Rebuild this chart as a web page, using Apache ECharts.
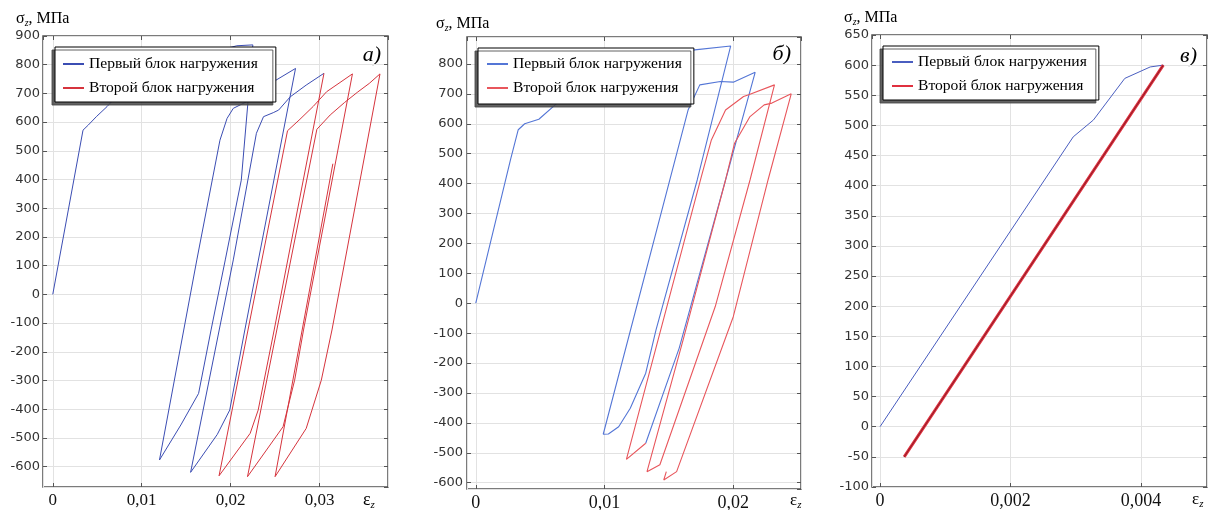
<!DOCTYPE html>
<html>
<head>
<meta charset="utf-8">
<script src="https://cdn.jsdelivr.net/npm/echarts@6.0.0/dist/echarts.min.js"></script>
<style>
  html, body { margin: 0; padding: 0; background: #ffffff; }
  #chart { width: 1210px; height: 510px; }
</style>
</head>
<body>
<div id="chart"></div>
<script>
// ---- Panel а): cyclic loading, strain εz vs stress σz (MPa) ----
const strainA1 = [0, 0.0034, 0.0040, 0.0049, 0.0061, 0.0066, 0.0100, 0.0130, 0.0160, 0.0190, 0.0207, 0.0225,
  0.0212, 0.0194, 0.0178, 0.0164, 0.0144, 0.0120,
  0.0162, 0.0188, 0.0196, 0.0203, 0.0218, 0.0245, 0.0273,
  0.0216, 0.0199, 0.0185, 0.0155,
  0.0203, 0.0229, 0.0237, 0.0248, 0.0254, 0.0267, 0.0285, 0.0305];
const stressA1 = [0, 572, 590, 619, 654, 671, 735, 785, 825, 852, 866, 869,
  398, 120, -124, -345, -455, -577,
  120, 537, 613, 648, 671, 735, 787,
  -124, -403, -488, -620,
  120, 561, 619, 633, 642, 688, 729, 770];
const strainA2 = [0.0305, 0.0249, 0.0231, 0.0222, 0.0187,
  0.0264, 0.0278, 0.0293, 0.0308, 0.0323, 0.0337,
  0.0282, 0.0272, 0.0259, 0.0219,
  0.0297, 0.0312, 0.0328, 0.0343, 0.0356, 0.0368,
  0.0314, 0.0302, 0.0285, 0.0250,
  0.0315];
const stressA2 = [770, -124, -403, -484, -632,
  570, 610, 655, 706, 738, 768,
  -124, -299, -461, -635,
  575, 625, 668, 705, 735, 768,
  -124, -299, -467, -635,
  455];

// ---- Panel б) ----
const strainB1 = [0, 0.0027, 0.0033, 0.0038, 0.0049, 0.0063, 0.0090, 0.0120, 0.0150, 0.0170, 0.0198,
  0.0172, 0.0140, 0.0132, 0.0120, 0.0111, 0.0103, 0.0099,
  0.0165, 0.0174, 0.0190, 0.0200, 0.0217,
  0.0194, 0.0158, 0.0132];
const stressB1 = [0, 480, 580, 600, 615, 668, 720, 780, 825, 847, 860,
  412, -89, -234, -351, -413, -437, -438,
  647, 730, 741, 739, 772,
  412, -150, -468];
const strainB2 = [0.0132, 0.0117, 0.0175, 0.0183, 0.0194, 0.0208, 0.0212, 0.0232,
  0.0213, 0.0186, 0.0143, 0.0133,
  0.0161, 0.0194, 0.0201, 0.0213, 0.0224, 0.0230, 0.0245,
  0.0227, 0.0200, 0.0156, 0.0146, 0.0148];
const stressB2 = [-468, -522, 420, 546, 646, 691, 697, 730,
  412, -11, -540, -563,
  -123, 412, 535, 624, 663, 669, 700,
  412, -45, -563, -591, -563];

// ---- Panel в) ----
const strainC1 = [0, 0.00296, 0.00327, 0.00375, 0.00414, 0.00434];
const stressC1 = [0, 481, 509, 578, 597, 600];
const strainC2 = [0.00434, 0.00037, 0.00434];
const stressC2 = [600, -50, 600];

// Axis ranges: [min, max, step]
const xRangeA = [-0.0011, 0.0377, 0.01];
const yRangeA = [-671, 900, 100];
const xRangeB = [-0.00068, 0.02526, 0.01];
const yRangeB = [-621, 890, 100];
const xRangeC = [-0.000123, 0.00501, 0.002];
const yRangeC = [-100, 650, 50];

const LEGEND_FIRST = 'Первый блок нагружения';
const LEGEND_SECOND = 'Второй блок нагружения';
const SERIF = '"Liberation Serif", "Times New Roman", serif';
const SANS = '"DejaVu Sans", Verdana, sans-serif';

function zip(xs, ys) { return xs.map((x, i) => [x, ys[i]]); }

function commaFmt(v) {
  if (Math.abs(v) < 1e-12) return '0';
  return String(parseFloat(v.toFixed(6))).replace('.', ',');
}

const xAxes = [], yAxes = [];
function addAxes(g, xr, yr, opts) {
  const tick = { show: true, inside: true, length: 4, lineStyle: { color: '#555', width: 1 } };
  const common = (r) => ({
    gridIndex: g, type: 'value', min: r[0], max: r[1],
    minInterval: r[2], maxInterval: r[2],
    splitNumber: Math.max(1, Math.round((r[1] - r[0]) / r[2])),
    axisLine: { show: false, onZero: false }, axisTick: tick
  });
  xAxes.push(Object.assign(common(xr), {
    position: 'bottom',
    splitLine: { show: true, lineStyle: { color: '#e2e2e2', width: 1 } },
    axisLabel: { showMinLabel: false, showMaxLabel: false, formatter: commaFmt,
      fontFamily: SERIF, fontSize: opts.xFont, color: '#111', margin: 5 }
  }));
  xAxes.push(Object.assign(common(xr), {
    position: 'top', splitLine: { show: false }, axisLabel: { show: false }
  }));
  yAxes.push(Object.assign(common(yr), {
    position: 'left',
    splitLine: { show: true, lineStyle: { color: '#e2e2e2', width: 1 } },
    axisLabel: { showMinLabel: opts.yMinLabel, showMaxLabel: opts.yMaxLabel,
      fontFamily: SANS, fontSize: 13, color: '#333', margin: opts.yMargin }
  }));
  yAxes.push(Object.assign(common(yr), {
    position: 'right', splitLine: { show: false }, axisLabel: { show: false }
  }));
}

addAxes(0, xRangeA, yRangeA, { xFont: 17, yMargin: 3, yMinLabel: false, yMaxLabel: true });
addAxes(1, xRangeB, yRangeB, { xFont: 18, yMargin: 4, yMinLabel: false, yMaxLabel: false });
addAxes(2, xRangeC, yRangeC, { xFont: 18, yMargin: 3, yMinLabel: true, yMaxLabel: true });

const gridBase = { show: true, borderColor: '#505050', borderWidth: 1.5, backgroundColor: 'transparent',
  containLabel: false, outerBoundsMode: 'none' };
const grids = [
  Object.assign({ left: 43, top: 36, width: 345, height: 451 }, gridBase),
  Object.assign({ left: 467, top: 37, width: 334, height: 452 }, gridBase),
  Object.assign({ left: 872, top: 35, width: 335, height: 452 }, gridBase)
];

function lineSeries(name, g, xs, ys, color, width) {
  return {
    name: name, type: 'line', xAxisIndex: g * 2, yAxisIndex: g * 2,
    data: zip(xs, ys), symbol: 'none', clip: true, silent: true,
    lineStyle: { color: color, width: width }, itemStyle: { color: color },
    emphasis: { disabled: true }
  };
}

const series = [
  lineSeries('first-a', 0, strainA1, stressA1, '#3b4db3', 1),
  lineSeries('second-a', 0, strainA2, stressA2, '#d6343d', 1),
  lineSeries('first-b', 1, strainB1, stressB1, '#5476d6', 1.1),
  lineSeries('second-b', 1, strainB2, stressB2, '#e8565c', 1.1),
  lineSeries('first-c', 2, strainC1, stressC1, '#4a5ec0', 1),
  lineSeries('second-c', 2, strainC2, stressC2, '#e0303f', 3),
  lineSeries('second-c-core', 2, strainC2, stressC2, 'rgba(90,20,25,0.75)', 0.5)
];

function legendFor(left, top, names, padding) {
  return {
    left: left, top: top, orient: 'vertical', data: names,
    selectedMode: false, itemWidth: 21, itemHeight: 1, itemGap: 8,
    itemStyle: { opacity: 0 },
    padding: padding, backgroundColor: '#ffffff', borderColor: '#000000', borderWidth: 1,
    shadowColor: 'rgba(70,70,70,0.85)', shadowBlur: 0, shadowOffsetX: -3, shadowOffsetY: 3,
    textStyle: { fontFamily: SERIF, fontSize: 15.6, color: '#000' },
    formatter: (n) => (n.indexOf('first') === 0 ? LEGEND_FIRST : LEGEND_SECOND)
  };
}

// Axis titles and panel letters
function axisTitle(x, y, main, sub, tail, size) {
  return {
    type: 'text', x: x, y: y, silent: true,
    style: {
      text: '{m|' + main + '}{s|' + sub + '}' + (tail ? '{m|' + tail + '}' : ''),
      verticalAlign: 'middle', align: 'left',
      rich: {
        m: { fontFamily: SERIF, fontSize: size, lineHeight: size + 3, fill: '#000', verticalAlign: 'middle' },
        s: { fontFamily: SERIF, fontSize: Math.round(size * 0.62), fontStyle: 'italic', lineHeight: Math.round(size * 0.62), fill: '#000', verticalAlign: 'bottom' }
      }
    }
  };
}
function panelLetter(x, y, t) {
  return {
    type: 'text', x: x, y: y, silent: true,
    style: { text: t, font: 'italic 22px ' + SERIF, fill: '#000', align: 'right', verticalAlign: 'middle' }
  };
}

const graphics = [
  axisTitle(16, 19, 'σ', 'z', ', МПа', 16),
  axisTitle(436, 24, 'σ', 'z', ', МПа', 16),
  axisTitle(844, 18, 'σ', 'z', ', МПа', 16),
  axisTitle(363, 500, 'ε', 'z', '', 18),
  axisTitle(790, 501, 'ε', 'z', '', 17),
  axisTitle(1192, 500, 'ε', 'z', '', 17),
  panelLetter(381, 55, 'а)'),
  panelLetter(791, 54, 'б)'),
  panelLetter(1197, 56, 'в)')
];

const chart = echarts.init(document.getElementById('chart'), null, { renderer: 'canvas' });
chart.setOption({
  animation: false,
  backgroundColor: '#ffffff',
  grid: grids,
  xAxis: xAxes,
  yAxis: yAxes,
  legend: [
    legendFor(55, 47, ['first-a', 'second-a'], [9, 18, 6, 7]),
    legendFor(478, 48, ['first-b', 'second-b'], [8, 12, 8, 8]),
    legendFor(883, 46, ['first-c', 'second-c'], [8, 12, 6, 8])
  ],
  series: series,
  graphic: { elements: graphics }
});
</script>
</body>
</html>
